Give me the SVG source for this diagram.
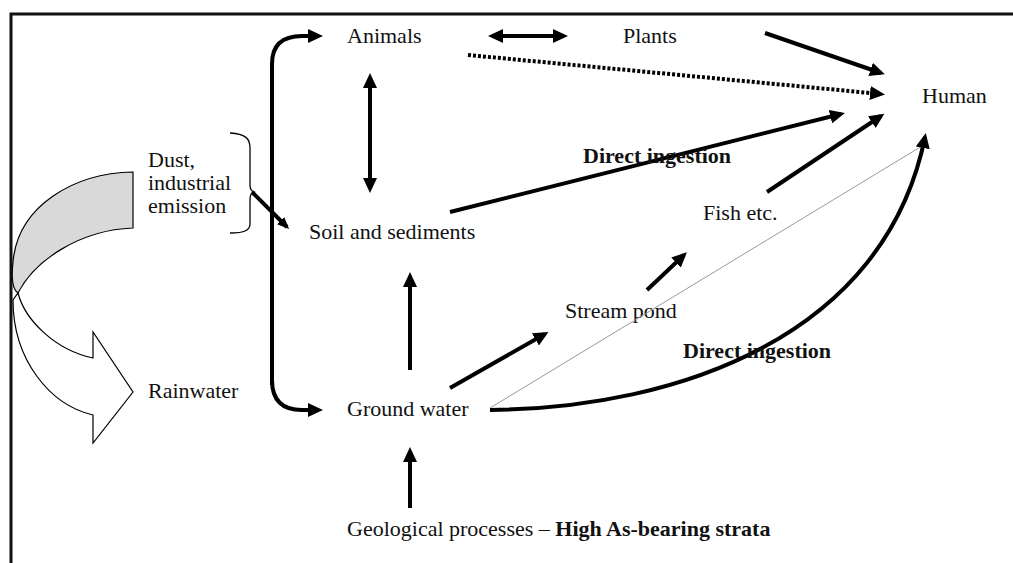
<svg xmlns="http://www.w3.org/2000/svg" width="1013" height="563" viewBox="0 0 1013 563">
<style>
text{font-family:"Liberation Serif","Times New Roman",serif;font-size:22px;fill:#111}
.b{font-weight:bold}
.c{fill:none;stroke:#000;stroke-width:4}
.thin{fill:none;stroke:#999;stroke-width:1}
</style>
<defs>
<marker id="ah" markerUnits="userSpaceOnUse" markerWidth="16" markerHeight="14" viewBox="0 0 16 14" refX="11" refY="7" orient="auto-start-reverse"><path d="M0,0 L15,7 L0,14 Z" fill="#000"/></marker>
<marker id="ahs" markerUnits="userSpaceOnUse" markerWidth="12" markerHeight="10" viewBox="0 0 12 10" refX="9" refY="5" orient="auto"><path d="M0,0 L12,5 L0,10 Z" fill="#000"/></marker>
</defs>
<rect width="1013" height="563" fill="#fff"/>
<path d="M11,563 L11,14 L1013,14" fill="none" stroke="#111" stroke-width="3"/>

<g id="cloud-arrow">
<path d="M133,172 C75,173 18,205 13,262 C11,280 13,290 18,293 C35,260 80,230 133,228 Z" fill="#d9d9d9" stroke="#000" stroke-width="1.2"/>
<path d="M18,293 C25,320 55,350 93,358 L93,332 L133,392 L93,443 L93,415 C50,405 13,360 13,300 Z" fill="#fff" stroke="#000" stroke-width="1.2"/>
</g>

<g id="dust">
<text x="148" y="167">Dust,</text>
<text x="148" y="190">industrial</text>
<text x="148" y="213">emission</text>
<path d="M230,133 C245,134 250,138 250,148 L250,185 C250,189 251,191 254,192 C251,193 250,195 250,199 L250,224 C250,230 245,233 230,233" fill="none" stroke="#000" stroke-width="1.3"/>
</g>
<g id="animals"><text x="347" y="43">Animals</text></g>
<g id="plants"><text x="623" y="43">Plants</text></g>
<g id="human"><text x="922" y="103">Human</text></g>
<g id="soil"><text x="309" y="239">Soil and sediments</text></g>
<g id="fish"><text x="703" y="220">Fish etc.</text></g>
<g id="stream"><text x="565" y="318">Stream pond</text></g>
<g id="rainwater"><text x="148" y="398">Rainwater</text></g>
<g id="groundwater"><text x="347" y="416">Ground water</text></g>
<g id="geological"><text x="347" y="536">Geological processes – <tspan class="b">High As-bearing strata</tspan></text></g>

<g id="connectors">
<path class="c" stroke-width="5" d="M272,385 L272,64 Q272,36 302,36 L319,36" marker-end="url(#ah)"/>
<path class="c" stroke-width="5" d="M272,380 Q272,410 302,410 L319,410" marker-end="url(#ah)"/>
<line class="c" stroke-width="3.5" x1="492" y1="36" x2="564" y2="36" marker-start="url(#ah)" marker-end="url(#ah)"/>
<line class="c" stroke-width="3.5" x1="370" y1="77" x2="370" y2="189" marker-start="url(#ah)" marker-end="url(#ah)"/>
<line class="c" stroke-width="5" stroke-dasharray="3 2" x1="468" y1="55" x2="881" y2="94" marker-end="url(#ah)"/>
<line class="c" x1="765" y1="33" x2="881" y2="73" marker-end="url(#ah)"/>
<line class="c" x1="450" y1="212" x2="841" y2="114" marker-end="url(#ah)"/>
<line class="c" x1="767" y1="192" x2="881" y2="116" marker-end="url(#ah)"/>
<line class="thin" x1="490" y1="408" x2="922" y2="146"/>
<path class="c" d="M490,410 C680,408 885,335 925,137" marker-end="url(#ah)"/>
<line class="c" x1="410" y1="370" x2="410" y2="276" marker-end="url(#ah)"/>
<line class="c" x1="450" y1="388" x2="545" y2="334" marker-end="url(#ah)"/>
<line class="c" x1="647" y1="290" x2="684" y2="255" marker-end="url(#ah)"/>
<line class="c" x1="410" y1="508" x2="410" y2="451" marker-end="url(#ah)"/>
<line class="c" stroke-width="2.5" x1="252" y1="192" x2="287" y2="227" marker-end="url(#ahs)"/>
</g>

<g id="labels">
<text class="b" x="583" y="163">Direct ingestion</text>
<text class="b" x="683" y="358">Direct ingestion</text>
</g>
</svg>
